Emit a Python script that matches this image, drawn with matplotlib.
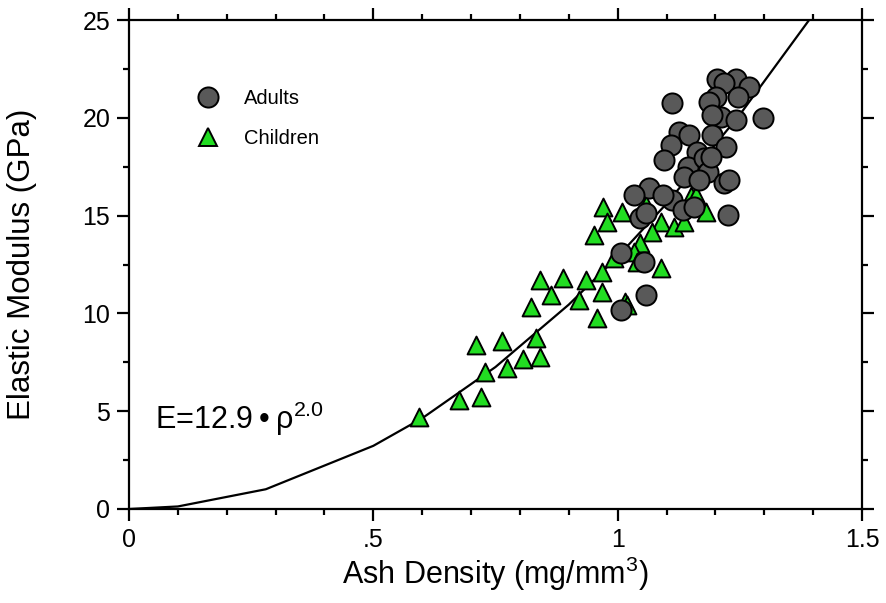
import matplotlib
matplotlib.use("Agg")
import matplotlib.pyplot as plt
from matplotlib.ticker import MultipleLocator, FixedLocator
from matplotlib.lines import Line2D

plt.rcParams['font.family'] = ['Liberation Sans', 'DejaVu Sans']
plt.rcParams['mathtext.fontset'] = 'custom'
plt.rcParams['mathtext.rm'] = 'Liberation Sans'
plt.rcParams['mathtext.it'] = 'Liberation Sans:italic'
plt.rcParams['mathtext.default'] = 'regular'

# ---- data ----
children_density = [0.593, 0.675, 0.721, 0.728, 0.711, 0.764, 0.774, 0.806, 0.842, 0.832,
                    0.822, 0.842, 0.863, 0.889, 0.921, 0.936, 0.967, 0.967, 0.958, 1.016,
                    1.020, 0.969, 1.008, 0.979, 0.951, 1.057, 1.088, 1.071, 1.115, 1.136,
                    1.046, 1.033, 0.993, 1.088, 1.040, 1.180, 1.150, 1.160]
children_modulus = [4.72, 5.57, 5.74, 7.02, 8.38, 8.60, 7.19, 7.65, 7.79, 8.73,
                    10.34, 11.70, 10.94, 11.80, 10.69, 11.70, 12.13, 11.10, 9.74, 10.60,
                    10.43, 15.45, 15.20, 14.69, 14.00, 15.54, 14.69, 14.18, 14.43, 14.69,
                    13.58, 13.15, 12.82, 12.30, 12.64, 15.20, 16.00, 16.05]

adults_density = [1.204, 1.242, 1.269, 1.218, 1.201, 1.246, 1.187, 1.112, 1.211, 1.242,
                  1.297, 1.194, 1.126, 1.146, 1.194, 1.109, 1.163, 1.222, 1.095, 1.143,
                  1.177, 1.184, 1.136, 1.166, 1.218, 1.228, 1.064, 1.112, 1.133, 1.156,
                  1.225, 1.092, 1.045, 1.033, 1.057, 1.006, 1.054, 1.059, 1.006, 1.190]
adults_modulus = [22.00, 22.00, 21.60, 21.76, 21.08, 21.08, 20.82, 20.74, 20.06, 19.89,
                  19.97, 20.14, 19.29, 19.12, 19.12, 18.61, 18.27, 18.52, 17.84, 17.50,
                  17.93, 17.24, 16.99, 16.82, 16.65, 16.82, 16.40, 15.80, 15.29, 15.45,
                  15.03, 16.05, 14.86, 16.05, 15.12, 13.07, 12.64, 10.94, 10.17, 18.00]

# fit curve E = 12.9 * rho^2.0
fit_density = [0.0, 0.1, 0.28, 0.5, 0.6, 0.75, 0.9, 1.0, 1.1, 1.25, 1.4]
fit_modulus = [0.0, 0.13, 1.01, 3.23, 4.64, 7.26, 10.45, 12.9, 15.61, 20.16, 25.28]

xtick_vals = [0, 0.5, 1.0, 1.5]
xtick_labels = ['0', '.5', '1', '1.5']
ytick_vals = [0, 5, 10, 15, 20, 25]

fig = plt.figure(figsize=(8.87, 6.03), dpi=100)
ax = fig.add_axes([129/887, 1 - 509/603, (862 - 129)/887, (509 - 20)/603])

ax.plot(fit_density, fit_modulus, color='black', lw=1.6, zorder=1)
ax.scatter(children_density, children_modulus, marker='^', s=165, c='#22dd22',
           edgecolors='black', linewidths=1.4, zorder=2)
ax.scatter(adults_density, adults_modulus, marker='o', s=210, c='#595959',
           edgecolors='black', linewidths=1.4, zorder=3)

ax.set_xlim(0, 1.5)
ax.set_ylim(0, 25)
ax.xaxis.set_major_locator(FixedLocator(xtick_vals))
ax.set_xticklabels(xtick_labels)
ax.xaxis.set_minor_locator(MultipleLocator(0.1))
ax.yaxis.set_major_locator(FixedLocator(ytick_vals))
ax.yaxis.set_minor_locator(MultipleLocator(2.5))

for sp in ax.spines.values():
    sp.set_linewidth(1.6)
ax.tick_params(which='both', direction='out', top=True, right=True, width=1.6,
               labeltop=False, labelright=False)
ax.tick_params(which='major', length=8.5, labelsize=18, pad=5)
ax.tick_params(which='minor', length=4.5)

ax.set_xlabel('Ash Density (mg/mm$^3$)', fontsize=22)
ax.set_ylabel('Elastic Modulus (GPa)', fontsize=22.5)
ax.yaxis.set_label_coords(-0.125, 0.5)
ax.xaxis.set_label_coords(0.5, -0.094)

ax.text(0.053, 4.6, 'E=12.9\u2009\u2022\u2009\u03c1$^{2.0}$', fontsize=22, va='center', ha='left')

handles = [Line2D([], [], marker='o', ls='none', markersize=14.5, markerfacecolor='#595959',
                  markeredgecolor='black', markeredgewidth=1.4),
           Line2D([], [], marker='^', ls='none', markersize=13, markerfacecolor='#22dd22',
                  markeredgecolor='black', markeredgewidth=1.4)]
ax.legend(handles, ['Adults', 'Children'], loc='upper left', bbox_to_anchor=(0.069, 0.875),
          frameon=False, fontsize=14.5, labelspacing=1.05, handletextpad=0.8, borderaxespad=0)

fig.savefig('out.png', dpi=100)
